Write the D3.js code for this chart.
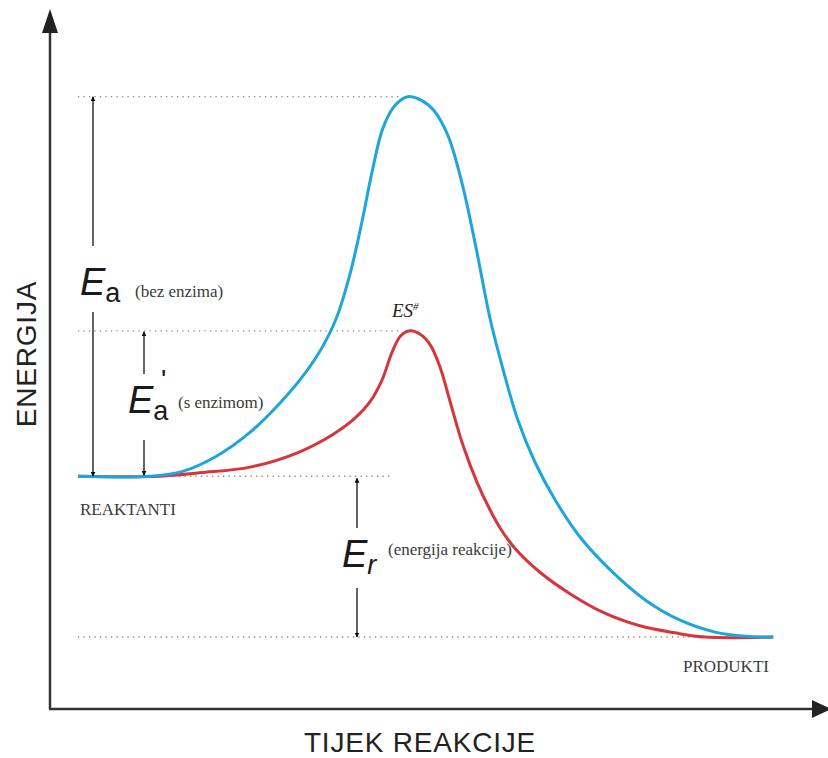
<!DOCTYPE html>
<html>
<head>
<meta charset="utf-8">
<script src="https://cdn.jsdelivr.net/npm/d3@7"></script>
<style>
  body { margin: 0; background: #fff; }
  svg { display: block; }
</style>
</head>
<body>
<div id="container"></div>
<script>
// energy levels (arbitrary units, 0-100)
const reactantLevel = 33.3,
      productLevel = 10.3,
      peakUncatalysed = 87.6,
      peakCatalysed = 54.1;

// reaction progress (0-100) of the uncatalysed curve (blue)
const blueProgress = [3.6, 12.9, 17.1, 21.5, 25.8, 30.0, 32.9, 35.1, 36.9, 38.7, 40.2, 41.5, 42.9, 44.5, 46.1,
  47.8, 49.5, 51.3, 53.1, 54.9, 56.7, 58.4, 60.3, 62.5, 65.1, 68.3, 72.2, 76.7, 81.2, 85.7, 89.6, 93.2];
const blueEnergy = [33.3, 33.3, 34.0, 36.2, 39.6, 44.2, 48.1, 51.8, 55.9, 62.4, 69.7, 76.8, 83.1, 86.4, 87.6,
  87.1, 85.6, 82.0, 75.2, 66.0, 55.9, 48.5, 41.3, 35.3, 29.9, 24.6, 19.9, 15.6, 12.7, 11.0, 10.4, 10.3];

// catalysed curve (red)
const redProgress = [3.6, 14.2, 19.3, 25.8, 32.2, 36.5, 39.3, 41.2, 42.8, 44.1, 45.2, 46.4, 47.7, 49.0, 50.3,
  51.5, 53.2, 55.0, 56.7, 58.0, 59.9, 63.1, 67.0, 71.5, 76.0, 80.5, 84.4, 93.2];
const redEnergy = [33.3, 33.3, 33.8, 34.6, 36.8, 39.3, 41.6, 43.9, 47.1, 51.1, 53.4, 54.1, 53.6, 52.1, 48.8,
  44.2, 37.8, 32.5, 28.5, 25.9, 23.0, 19.6, 16.5, 13.7, 11.9, 10.9, 10.3, 10.3];

// dotted guide lines: energy and progress span
const guideEnergy = [peakUncatalysed, peakCatalysed, reactantLevel, productLevel];
const guideStart = [3.6, 3.6, 14.5, 3.6];
const guideEnd = [45.0, 45.0, 43.8, 84.5];

const widthSVG = 828,
      heightSVG = 758;

const x = d3.scaleLinear().domain([0, 100]).range([50, 826]);
const y = d3.scaleLinear().domain([0, 100]).range([709, 10]);

const svg = d3
  .select('#container')
  .append('svg')
  .attr('width', widthSVG)
  .attr('height', heightSVG);

// arrow heads for the small annotation arrows
const defs = svg.append('defs');
defs.append('marker')
  .attr('id', 'head')
  .attr('viewBox', '0 0 10 10')
  .attr('refX', 9)
  .attr('refY', 5)
  .attr('markerWidth', 5)
  .attr('markerHeight', 5)
  .attr('markerUnits', 'userSpaceOnUse')
  .attr('orient', 'auto')
  .append('path')
  .attr('d', 'M0,0 L10,5 L0,10 Z')
  .attr('fill', '#111');

// dotted guide lines
svg.selectAll('.guide')
  .data(guideEnergy)
  .enter()
  .append('line')
  .attr('class', 'guide')
  .attr('x1', (d, i) => x(guideStart[i]))
  .attr('x2', (d, i) => x(guideEnd[i]))
  .attr('y1', d => y(d))
  .attr('y2', d => y(d))
  .attr('stroke', '#8a8a8a')
  .attr('stroke-width', 1.3)
  .attr('stroke-dasharray', '1.3,4.2');

// energy curves, red below blue
const line = d3.line()
  .x(d => x(d[0]))
  .y(d => y(d[1]))
  .curve(d3.curveCatmullRom.alpha(0.5));

svg.append('path')
  .datum(d3.zip(redProgress, redEnergy))
  .attr('d', line)
  .attr('fill', 'none')
  .attr('stroke', '#d5363b')
  .attr('stroke-width', 3);

svg.append('path')
  .datum(d3.zip(blueProgress, blueEnergy))
  .attr('d', line)
  .attr('fill', 'none')
  .attr('stroke', '#1ea6dc')
  .attr('stroke-width', 3);

// axes with filled arrow tips
svg.append('line')
  .attr('x1', x(0)).attr('x2', x(0))
  .attr('y1', y(0)).attr('y2', 30)
  .attr('stroke', '#333').attr('stroke-width', 2.5);
svg.append('path')
  .attr('d', `M${x(0)},9 L${x(0) - 8},33 L${x(0) + 8},33 Z`)
  .attr('fill', '#222');

svg.append('line')
  .attr('x1', x(0) - 1).attr('x2', 812)
  .attr('y1', y(0)).attr('y2', y(0))
  .attr('stroke', '#333').attr('stroke-width', 2.5);
svg.append('path')
  .attr('d', `M831,${y(0)} L812,${y(0) - 9} L812,${y(0) + 9} Z`)
  .attr('fill', '#222');

// double arrows with a gap for their label
function gapArrow(px, top, bottom, gapTop, gapBottom) {
  svg.append('line')
    .attr('x1', px).attr('x2', px)
    .attr('y1', gapTop).attr('y2', top)
    .attr('stroke', '#222').attr('stroke-width', 1.4)
    .attr('marker-end', 'url(#head)');
  svg.append('line')
    .attr('x1', px).attr('x2', px)
    .attr('y1', gapBottom).attr('y2', bottom)
    .attr('stroke', '#222').attr('stroke-width', 1.4)
    .attr('marker-end', 'url(#head)');
}
gapArrow(93, y(peakUncatalysed), y(reactantLevel), 246, 312);
gapArrow(144, y(peakCatalysed) + 1, y(reactantLevel) - 1, 374, 440);
gapArrow(357, y(reactantLevel) + 2, y(productLevel), 528, 588);

// labels
const sans = 'Liberation Sans, Arial, sans-serif',
      serif = 'Liberation Serif, Times New Roman, serif';

function bigLabel(px, py, sub, subItalic) {
  const t = svg.append('text')
    .attr('x', px).attr('y', py)
    .style('font-family', sans)
    .style('font-size', '38px')
    .style('font-style', 'italic')
    .attr('fill', '#1a1a1a')
    .text('E');
  t.append('tspan')
    .attr('dy', 7)
    .style('font-size', '27px')
    .style('font-style', subItalic ? 'italic' : 'normal')
    .text(sub);
}
bigLabel(80, 295, 'a', false);
bigLabel(128, 413, 'a', false);
bigLabel(342, 567, 'r', true);

svg.append('text')
  .attr('x', 161).attr('y', 389)
  .style('font-family', sans).style('font-size', '28px')
  .attr('fill', '#1a1a1a')
  .text("'");

const small = [
  ['(bez enzima)', 135, 297],
  ['(s enzimom)', 178, 408],
  ['(energija reakcije)', 388, 555],
  ['REAKTANTI', 80, 515],
  ['PRODUKTI', 683, 672]
];
svg.selectAll('.small')
  .data(small)
  .enter()
  .append('text')
  .attr('class', 'small')
  .attr('x', d => d[1])
  .attr('y', d => d[2])
  .style('font-family', serif)
  .style('font-size', '17px')
  .attr('fill', '#3a3a3a')
  .text(d => d[0]);

// transition state
const es = svg.append('text')
  .attr('x', 392).attr('y', 317)
  .style('font-family', serif)
  .style('font-size', '19px')
  .style('font-style', 'italic')
  .attr('fill', '#222')
  .text('ES');
es.append('tspan')
  .attr('dy', -7)
  .style('font-size', '11px')
  .text('#');

// axis titles
svg.append('text')
  .attr('x', 420).attr('y', 752)
  .attr('text-anchor', 'middle')
  .style('font-family', sans)
  .style('font-size', '28px')
  .style('letter-spacing', '0.8px')
  .attr('fill', '#222')
  .text('TIJEK REAKCIJE');

svg.append('text')
  .attr('transform', 'translate(36,354) rotate(-90)')
  .attr('text-anchor', 'middle')
  .style('font-family', sans)
  .style('font-size', '28px')
  .style('letter-spacing', '0.8px')
  .attr('fill', '#222')
  .text('ENERGIJA');
</script>
</body>
</html>
